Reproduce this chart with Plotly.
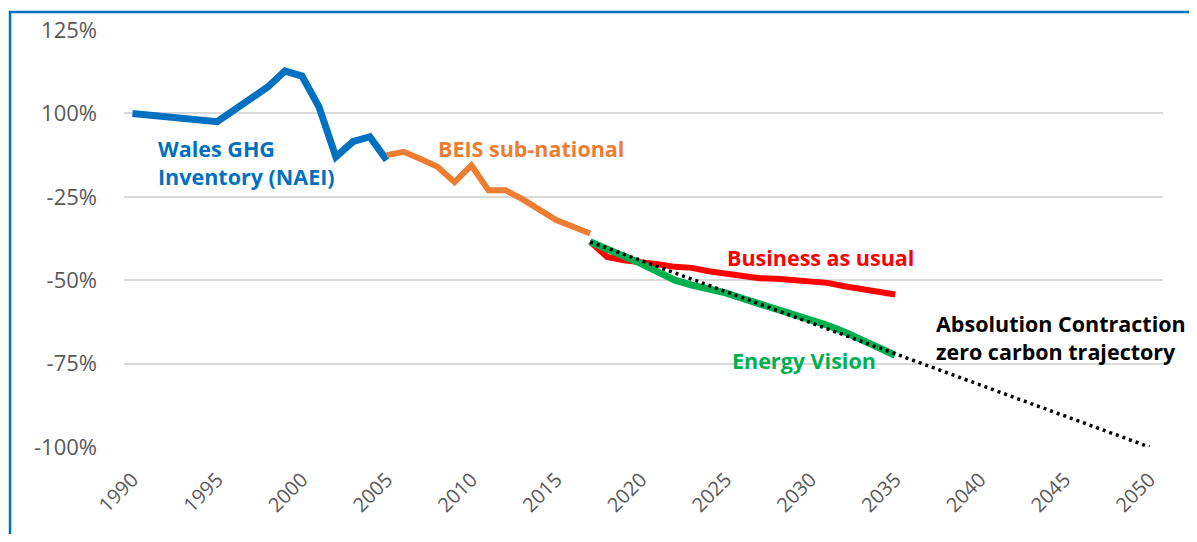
import plotly.graph_objects as go

# ---- data (change vs 1990 baseline, %) ----
wales_years = [1990, 1995, 1998, 1999, 2000, 2001, 2002, 2003, 2004, 2005]
wales_vals = [0, -2.5, 8, 12.7, 11.2, 2, -13, -8.5, -7, -14]

beis_years = list(range(2005, 2018))
beis_vals = [-12.5, -11.5, -13.7, -16, -20.6, -15.6, -23, -23, -25.7, -29, -32, -34, -36]

bau_years = list(range(2017, 2036))
bau_vals = [-38.5, -43, -44, -44.5, -45.2, -46, -46.3, -47.3, -48, -48.8,
            -49.4, -49.6, -50, -50, -50.8, -51.8, -52.5, -53.3, -54.3]

ev_years = list(range(2017, 2036))
ev_vals = [-38.5, -40.5, -42.5, -45, -47.5, -50, -51.5, -52.5, -53.8, -55.5,
           -57, -58.5, -60, -61.5, -63.5, -65.5, -68, -70.5, -72.5]

traj_years = [2017, 2050]
traj_vals = [-38.5, -100]

y_tickvals = [25, 0, -25, -50, -75, -100]
y_ticktext = ["125%", "100%", "-25%", "-50%", "-75%", "-100%"]
x_tickvals = list(range(1990, 2051, 5))
x_ticktext = [str(v) for v in x_tickvals]

BLUE = "#0070C0"
ORANGE = "#ED7D31"
RED = "#FF0000"
GREEN = "#00B050"
FONT = "Open Sans"

fig = go.Figure()
fig.add_trace(go.Scatter(x=wales_years, y=wales_vals, mode="lines",
                         line=dict(color=BLUE, width=7), name="Wales GHG Inventory (NAEI)"))
fig.add_trace(go.Scatter(x=beis_years, y=beis_vals, mode="lines",
                         line=dict(color=ORANGE, width=6), name="BEIS sub-national"))
fig.add_trace(go.Scatter(x=bau_years, y=bau_vals, mode="lines",
                         line=dict(color=RED, width=6), name="Business as usual"))
fig.add_trace(go.Scatter(x=ev_years, y=ev_vals, mode="lines",
                         line=dict(color=GREEN, width=7), name="Energy Vision"))
fig.add_trace(go.Scatter(x=traj_years, y=traj_vals, mode="lines",
                         line=dict(color="black", width=3.5, dash="3px,4px"),
                         name="Absolution Contraction zero carbon trajectory"))

def ann(text, x, y, color, xanchor="center", align="center"):
    fig.add_annotation(x=x, y=y, xref="x", yref="y", text=text, showarrow=False,
                       xanchor=xanchor, yanchor="middle", align=align,
                       font=dict(family=FONT, size=21.5, color=color))

ann("<b>Wales GHG<br>Inventory (NAEI)</b>", 1991.4, -14.8, BLUE, xanchor="left", align="left")
ann("<b>BEIS sub-national</b>", 2013.5, -10.5, ORANGE)
ann("<b>Business as usual</b>", 2030.6, -43.1, RED)
ann("<b>Energy Vision</b>", 2029.6, -74.2, GREEN)
ann("<b>Absolution Contraction<br>zero carbon trajectory</b>", 2037.3, -67.3, "black",
    xanchor="left", align="left")

# outer blue frame (top and left edges visible)
fig.add_shape(type="rect", xref="paper", yref="paper",
              x0=-0.1097, x1=1.2, y0=-0.4, y1=1.0432,
              line=dict(color=BLUE, width=2.5), fillcolor="rgba(0,0,0,0)", layer="below")

fig.update_layout(
    width=1181, height=526,
    margin=dict(l=116, r=26, t=22, b=87),
    paper_bgcolor="white", plot_bgcolor="white",
    showlegend=False,
    font=dict(family=FONT, color="#595959"),
    xaxis=dict(range=[1989.5, 2050.8], tickmode="array", tickvals=x_tickvals,
               ticktext=x_ticktext, tickangle=-45, showgrid=False, zeroline=False,
               showline=False, ticks="", tickfont=dict(size=20, color="#595959"),
               ticklabelstandoff=16, automargin=False),
    yaxis=dict(range=[-100, 25], tickmode="array", tickvals=y_tickvals,
               ticktext=y_ticktext, showgrid=True, gridcolor="#D9D9D9", gridwidth=1.5,
               zeroline=False, showline=False, ticks="",
               tickfont=dict(size=22, color="#595959"), ticklabelstandoff=26,
               automargin=False),
)

fig.write_html("out.html")
